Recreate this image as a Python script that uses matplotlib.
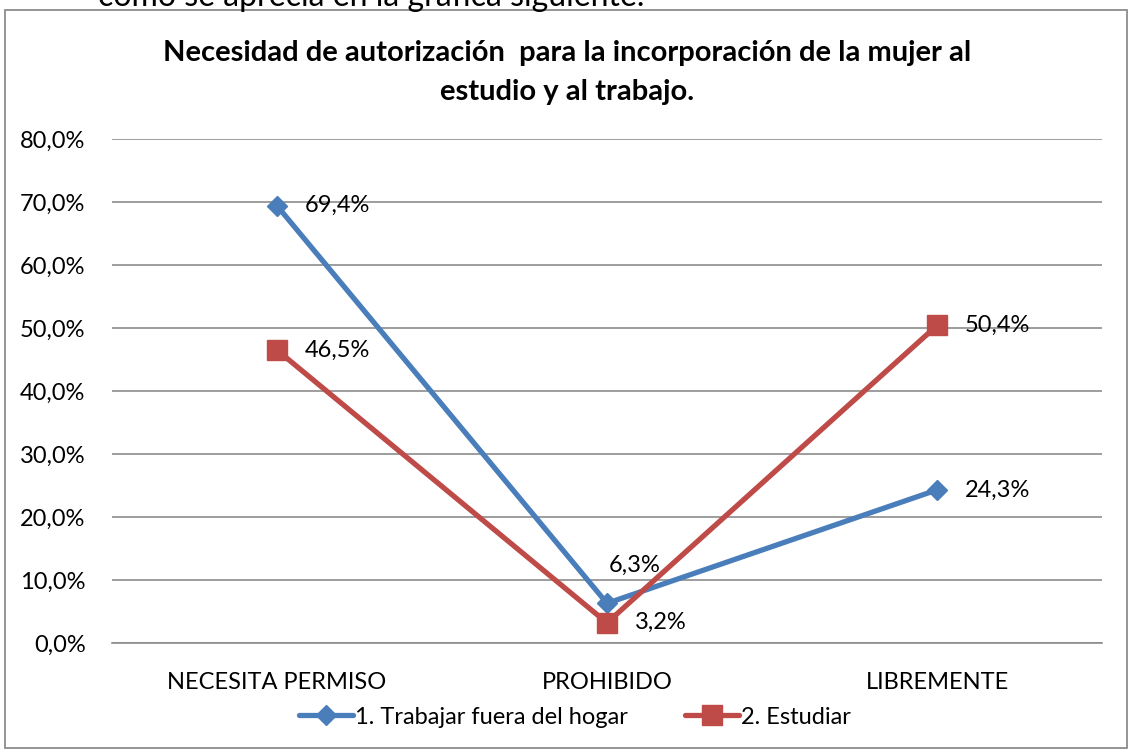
import matplotlib
matplotlib.use("Agg")
import matplotlib.pyplot as plt
from matplotlib.patches import Rectangle
from matplotlib.ticker import FuncFormatter

categories = ["NECESITA PERMISO", "PROHIBIDO", "LIBREMENTE"]
trabajar = [69.4, 6.3, 24.3]
estudiar = [46.5, 3.2, 50.4]
series_names = ["1. Trabajar fuera del hogar", "2. Estudiar"]
yticks = [0, 10, 20, 30, 40, 50, 60, 70, 80]

plt.rcParams['font.family'] = ['Lato', 'DejaVu Sans']

fig = plt.figure(figsize=(11.31, 7.49), dpi=100)
W, H = 1131, 749

# outer chart border
fig.patches.append(Rectangle((5 / W, 1 / H), (1127 - 5) / W, (748 - 10) / H,
                             transform=fig.transFigure, fill=False,
                             edgecolor='#8c8c8c', linewidth=1.3))
# cropped text from the page above the chart
fig.text(98 / W, 1 - 6 / H, "como se aprecia en la gráfica siguiente.",
         fontsize=23, ha='left', va='baseline', color='black')

ax = fig.add_axes([112 / W, 1 - 643 / H, (1102 - 112) / W, (643 - 139) / H])
x = [0, 1, 2]
blue = '#4a7ebb'
red = '#be4b48'
ax.plot(x, trabajar, color=blue, lw=3.8, marker='D', markersize=10.5,
        label=series_names[0], zorder=3, solid_capstyle='round')
ax.plot(x, estudiar, color=red, lw=3.8, marker='s', markersize=15,
        label=series_names[1], zorder=3, solid_capstyle='round')

fs = 17
ax.set_xlim(-0.5, 2.5)
ax.set_ylim(0, 80)
ax.set_yticks(yticks)
ax.yaxis.set_major_formatter(FuncFormatter(lambda v, p: f"{v:.1f}%".replace('.', ',')))
ax.set_xticks(x)
ax.set_xticklabels(categories)
ax.tick_params(axis='both', length=0, labelsize=fs)
ax.tick_params(axis='y', pad=19)
ax.tick_params(axis='x', pad=21)
ax.grid(axis='y', color='#8c8c8c', lw=1.2)
ax.set_axisbelow(True)
for s in ['left', 'right', 'top']:
    ax.spines[s].set_visible(False)
ax.spines['bottom'].set_color('#8c8c8c')
ax.spines['bottom'].set_linewidth(1.2)

def fmt(v):
    return f"{v:.1f}%".replace('.', ',')

# data labels
for i, v in enumerate(trabajar):
    if i == 1:
        ax.annotate(fmt(v), (i, v), xytext=(28, 38), textcoords='offset pixels',
                    ha='center', va='center', fontsize=fs)
    else:
        ax.annotate(fmt(v), (i, v), xytext=(28, 0), textcoords='offset pixels',
                    ha='left', va='center', fontsize=fs)
for i, v in enumerate(estudiar):
    ax.annotate(fmt(v), (i, v), xytext=(28, 0), textcoords='offset pixels',
                ha='left', va='center', fontsize=fs)

fig.text(567 / W, 1 - 53 / H, "Necesidad de autorización  para la incorporación de la mujer al",
         ha='center', va='center', fontsize=21, fontweight='bold')
fig.text(567 / W, 1 - 92 / H, "estudio y al trabajo.",
         ha='center', va='center', fontsize=21, fontweight='bold')

fig.legend(loc='center', bbox_to_anchor=(575 / W, 1 - 717 / H), ncol=2,
           frameon=False, fontsize=fs, handlelength=2.3, handletextpad=0.1,
           columnspacing=2.4, borderpad=0)

fig.savefig("out.png", dpi=100)
